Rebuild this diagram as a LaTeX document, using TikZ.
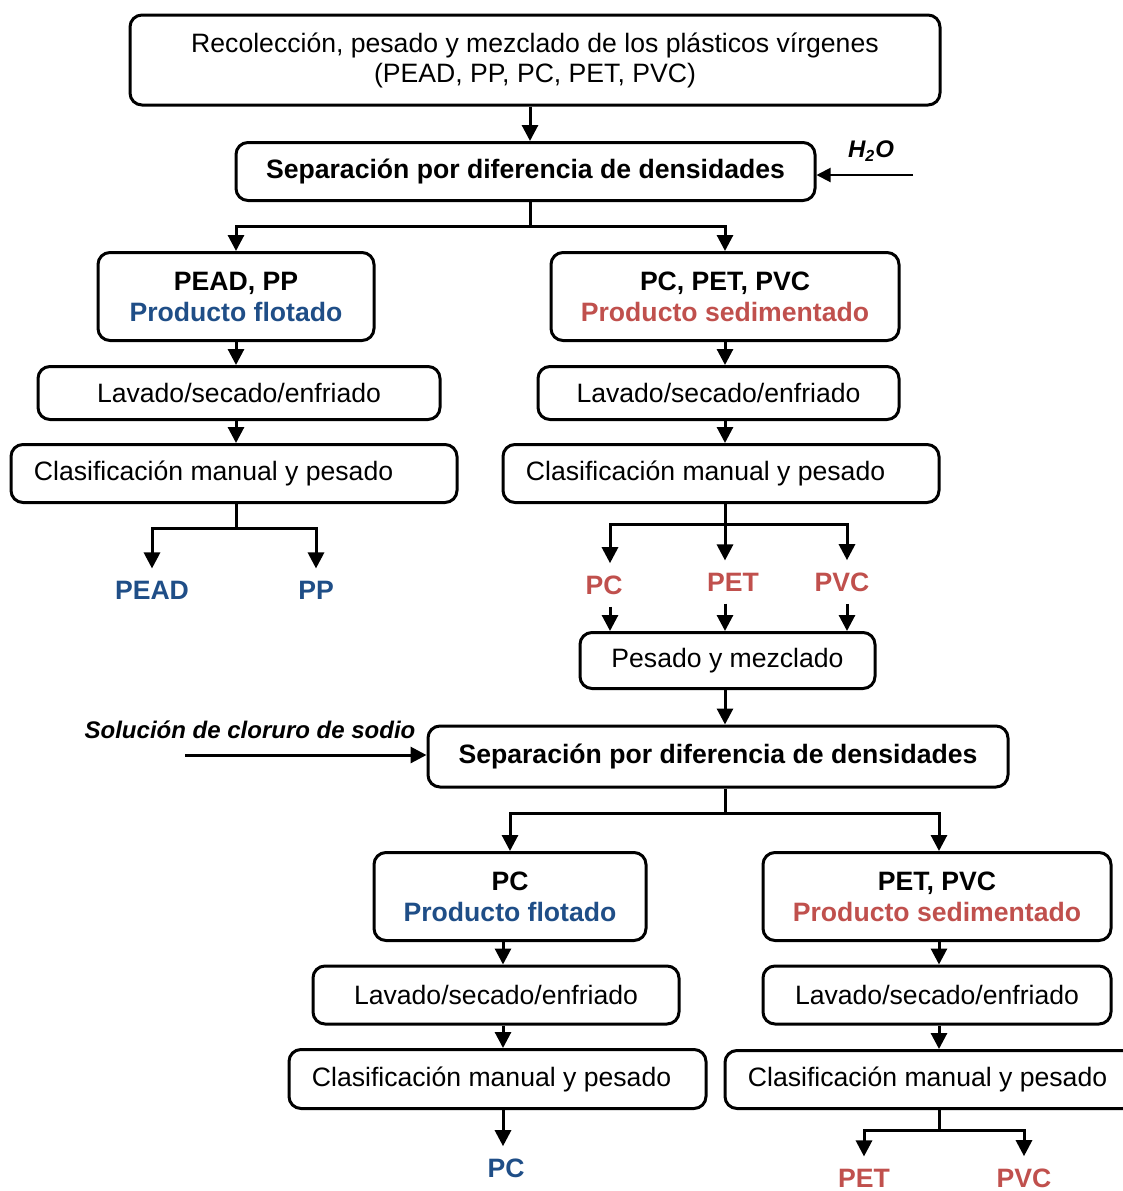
\documentclass[tikz,border=0pt]{standalone}
\usepackage{fontspec}
\setmainfont{Liberation Sans}
\usepackage{xcolor}
\usepackage{tikz}
\usetikzlibrary{arrows.meta}
\definecolor{azulflot}{RGB}{31,78,135}
\definecolor{rojosed}{RGB}{192,80,77}

\begin{document}
\begin{tikzpicture}[x=0.5pt, y=-0.5pt,
		every node/.style={font=\fontsize{13.3}{15}\selectfont},
		caja/.style={draw, line width=1.5pt, rounded corners=6pt, align=center, inner sep=0pt},
		texclas/.style={anchor=west, inner sep=0pt},
		etiq/.style={font=\fontsize{13.3}{15}\selectfont\bfseries, inner sep=6pt},
		flecha/.style={line width=1.5pt, -{Triangle[length=8pt, width=8pt]}},
		linea/.style={line width=1.5pt}
	]
	\useasboundingbox (0,0) rectangle (1123,1191);

	\node[caja, minimum width=405pt, minimum height=45pt] (rec) at (535,60)
		{Recolección, pesado y mezclado de los plásticos vírgenes\\(PEAD, PP, PC, PET, PVC)};
	\node[caja, minimum width=289.5pt, minimum height=29pt, font=\fontsize{13.3}{15}\selectfont\bfseries] (sep1) at (525.5,171.5)
		{Separación por diferencia de densidades};
	\node[caja, minimum width=138pt, minimum height=44pt, font=\fontsize{13.3}{15.5}\selectfont\bfseries] (flot1) at (236,296.5)
		{PEAD, PP\\\textcolor{azulflot}{Producto flotado}};
	\node[caja, minimum width=174pt, minimum height=44pt, font=\fontsize{13.3}{15.5}\selectfont\bfseries] (sedi1) at (725,296.5)
		{PC, PET, PVC\\\textcolor{rojosed}{Producto sedimentado}};
	\node[caja, minimum width=201pt, minimum height=26.5pt] (lav1) at (239,393) {Lavado/secado/enfriado};
	\node[caja, minimum width=180.5pt, minimum height=26.5pt] (lav2) at (718.5,393) {Lavado/secado/enfriado};
	\node[caja, minimum width=223pt, minimum height=29pt] (clas1) at (234,473.5) {};
	\node[caja, minimum width=218pt, minimum height=29pt] (clas2) at (721,473.5) {};
	\node[caja, minimum width=147.5pt, minimum height=28pt] (mez) at (727.5,660.5) {Pesado y mezclado};
	\node[caja, minimum width=290pt, minimum height=30.5pt, font=\fontsize{13.3}{15}\selectfont\bfseries] (sep2) at (718,756.5)
		{Separación por diferencia de densidades};
	\node[caja, minimum width=136pt, minimum height=44pt, font=\fontsize{13.3}{15.5}\selectfont\bfseries] (flot2) at (510,896.5)
		{PC\\\textcolor{azulflot}{Producto flotado}};
	\node[caja, minimum width=174pt, minimum height=44pt, font=\fontsize{13.3}{15.5}\selectfont\bfseries] (sedi2) at (937,896.5)
		{PET, PVC\\\textcolor{rojosed}{Producto sedimentado}};
	\node[caja, minimum width=183pt, minimum height=29pt] (lav3) at (496,995) {Lavado/secado/enfriado};
	\node[caja, minimum width=174pt, minimum height=29pt] (lav4) at (937,995) {Lavado/secado/enfriado};
	\node[caja, minimum width=208.5pt, minimum height=29.5pt] (clas3) at (497.5,1079) {};
	\node[caja, minimum width=205pt, minimum height=29pt] (clas4) at (930,1079.5) {};

	\foreach \caja in {clas1, clas2, clas3, clas4}{
		\node[texclas] (\caja t) at ([xshift=12pt]\caja.west) {Clasificación manual y pesado};
	}

	\foreach \nombre/\x/\y/\col/\texto in {
		pead/152/590/azulflot/PEAD,
		pp/316/590/azulflot/PP,
		pcA/604/585/rojosed/PC,
		petA/733/582/rojosed/PET,
		pvcA/842/582/rojosed/PVC,
		pcB/506/1168/azulflot/PC,
		petB/864/1178/rojosed/PET,
		pvcB/1024/1178/rojosed/PVC
	}{
		\node[etiq, text=\col] (\nombre) at (\x,\y) {\texto};
	}
	\node[font=\fontsize{12}{14}\selectfont\bfseries\itshape] (agua) at (871,151) {H\textsubscript{2}O};
	\node[font=\fontsize{12}{14}\selectfont\bfseries\itshape] (sodio) at (250,730) {Solución de cloruro de sodio};

	\coordinate (b1) at (530,226);
	\coordinate (b3) at (236,528);
	\coordinate (c1) at (610,524);
	\coordinate (c2) at (725,524);
	\coordinate (c3) at (847,524);
	\coordinate (b5) at (725,813);
	\coordinate (c4) at (503,1145);
	\coordinate (b6) at (939,1130);
	\coordinate (h) at (913,175);
	\coordinate (s) at (185,755);

	\draw[flecha] (rec.south -| b1) -- (sep1.north -| b1);
	\draw[line width=1pt, -{Triangle[length=7pt, width=7pt]}] (h) -- (h -| sep1.east);
	\draw[linea] (sep1.south -| b1) -- (b1);
	\draw[flecha] (b1) -| (flot1.north);
	\draw[flecha] (b1) -| (sedi1.north);
	\draw[flecha] (flot1.south -| b3) -- (lav1.north -| b3);
	\draw[flecha] (lav1.south -| b3) -- (clas1.north -| b3);
	\draw[flecha] (sedi1.south -| c2) -- (lav2.north -| c2);
	\draw[flecha] (lav2.south -| c2) -- (clas2.north -| c2);
	\draw[linea] (clas1.south -| b3) -- (b3);
	\draw[flecha] (b3) -| (pead.north);
	\draw[flecha] (b3) -| (pp.north);
	\draw[flecha] (clas2.south -| c2) -- (petA.north -| c2);
	\draw[flecha] (c2) -- (c1) -- (c1 |- pcA.north);
	\draw[flecha] (c2) -- (c3) -- (c3 |- pvcA.north);
	\draw[flecha] (c1 |- pcA.south) -- (c1 |- mez.north);
	\draw[flecha] (c2 |- petA.south) -- (c2 |- mez.north);
	\draw[flecha] (c3 |- pvcA.south) -- (c3 |- mez.north);
	\draw[flecha] (mez.south -| b5) -- (sep2.north -| b5);
	\draw[flecha] (s) -- (s -| sep2.west);
	\draw[linea] (sep2.south -| b5) -- (b5);
	\draw[flecha] (b5) -| (flot2.north);
	\draw[flecha] (b5) -| (sedi2.north -| b6);
	\draw[flecha] (flot2.south -| c4) -- (lav3.north -| c4);
	\draw[flecha] (lav3.south -| c4) -- (clas3.north -| c4);
	\draw[flecha] (clas3.south -| c4) -- (pcB.north -| c4);
	\draw[flecha] (sedi2.south -| b6) -- (lav4.north -| b6);
	\draw[flecha] (lav4.south -| b6) -- (clas4.north -| b6);
	\draw[linea] (clas4.south -| b6) -- (b6);
	\draw[flecha] (b6) -| (petB.north);
	\draw[flecha] (b6) -| (pvcB.north);
\end{tikzpicture}
\end{document}
